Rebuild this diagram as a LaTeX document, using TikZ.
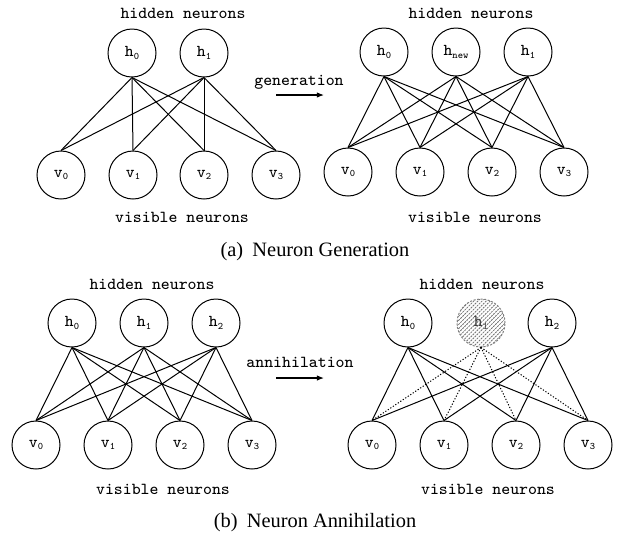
\documentclass[tikz,border=0pt]{standalone}
\usepackage{fontspec}
\setmainfont{Liberation Serif}
\usetikzlibrary{patterns.meta,arrows.meta}
\newcommand{\nrn}[2]{#1\raisebox{-0.35ex}{\fontsize{5}{5}\selectfont #2}}
\tikzset{
  neuron/.style={circle, draw, line width=0.5pt, minimum size=24pt, inner sep=0pt,
    font=\ttfamily\fontsize{8.3}{9}\selectfont},
  removed/.style={neuron, draw=gray, dash pattern=on 1pt off 0.8pt, text=darkgray,
    pattern={Lines[angle=45,distance=1.45pt,line width=0.4pt]}, pattern color=black!55},
  layerlabel/.style={font=\ttfamily\fontsize{8.4}{9}\selectfont},
  synapse/.style={line width=0.5pt},
  weak/.style={line width=0.5pt, dash pattern=on 0.6pt off 0.9pt},
  change/.style={line width=0.6pt, -{Latex[length=3.6pt,width=2.8pt]}},
  caption/.style={font=\fontsize{10.2}{12}\selectfont}
}
\begin{document}
\begin{tikzpicture}[x=0.5pt, y=-0.5pt]
    \useasboundingbox (0,0) rectangle (630,537);

    % (a) left: network before generation
    \foreach \i/\x in {0/132,1/204}
        \node[neuron] (ah\i) at (\x,53) {\nrn{h}{\i}};
    \foreach \j/\x in {0/61,1/133,2/204,3/276}
        \node[neuron] (av\j) at (\x,175) {\nrn{v}{\j}};
    \foreach \i in {0,1} {
        \foreach \j in {0,...,3}
            \draw[synapse] (ah\i.south) -- (av\j.north);
    }
    \node[layerlabel] (ahid) at (183,13) {hidden neurons};
    \node[layerlabel] (avis) at (182,217) {visible neurons};

    % generation arrow
    \coordinate (gstart) at (276,95);
    \coordinate (gend) at (324,95);
    \draw[change] (gstart) -- (gend);
    \node[layerlabel] (glabel) at (299,82) {generation};

    % (a) right: network after generation
    \foreach \n/\s/\x in {0/0/384,1/new/456,2/1/528}
        \node[neuron] (bh\n) at (\x,52) {\nrn{h}{\s}};
    \foreach \j/\x in {0/348,1/420,2/492,3/564}
        \node[neuron] (bv\j) at (\x,172) {\nrn{v}{\j}};
    \foreach \i in {0,1,2} {
        \foreach \j in {0,...,3}
            \draw[synapse] (bh\i.south) -- (bv\j.north);
    }
    \node[layerlabel] (bhid) at (471,13) {hidden neurons};
    \node[layerlabel] (bvis) at (475,217) {visible neurons};

    \node[caption] (capa) at (315,252) {(a)\hspace{0.45em}Neuron Generation};

    % (b) left: network before annihilation
    \foreach \i/\x in {0/72,1/144,2/216}
        \node[neuron] (ch\i) at (\x,323) {\nrn{h}{\i}};
    \foreach \j/\x in {0/36,1/108,2/180,3/252}
        \node[neuron] (cv\j) at (\x,445) {\nrn{v}{\j}};
    \foreach \i in {0,1,2} {
        \foreach \j in {0,...,3}
            \draw[synapse] (ch\i.south) -- (cv\j.north);
    }
    \node[layerlabel] (chid) at (152,284) {hidden neurons};
    \node[layerlabel] (cvis) at (163,489) {visible neurons};

    % annihilation arrow
    \coordinate (astart) at (276,378);
    \coordinate (aend) at (324,378);
    \draw[change] (astart) -- (aend);
    \node[layerlabel] (alabel) at (300,362) {annihilation};

    % (b) right: h1 removed, its links dotted
    \node[neuron] (dh0) at (408,323) {\nrn{h}{0}};
    \node[removed] (dh1) at (481,323) {\nrn{h}{1}};
    \node[neuron] (dh2) at (552,323) {\nrn{h}{2}};
    \foreach \j/\x in {0/372,1/444,2/516,3/588}
        \node[neuron] (dv\j) at (\x,445) {\nrn{v}{\j}};
    \foreach \j in {0,...,3} {
        \draw[synapse] (dh0.south) -- (dv\j.north);
        \draw[synapse] (dh2.south) -- (dv\j.north);
        \draw[weak] (dh1.south) -- (dv\j.north);
    }
    \node[layerlabel] (dhid) at (482,284) {hidden neurons};
    \node[layerlabel] (dvis) at (488,489) {visible neurons};

    \node[caption] (capb) at (315,523) {(b)\hspace{0.45em}Neuron Annihilation};
\end{tikzpicture}
\end{document}
